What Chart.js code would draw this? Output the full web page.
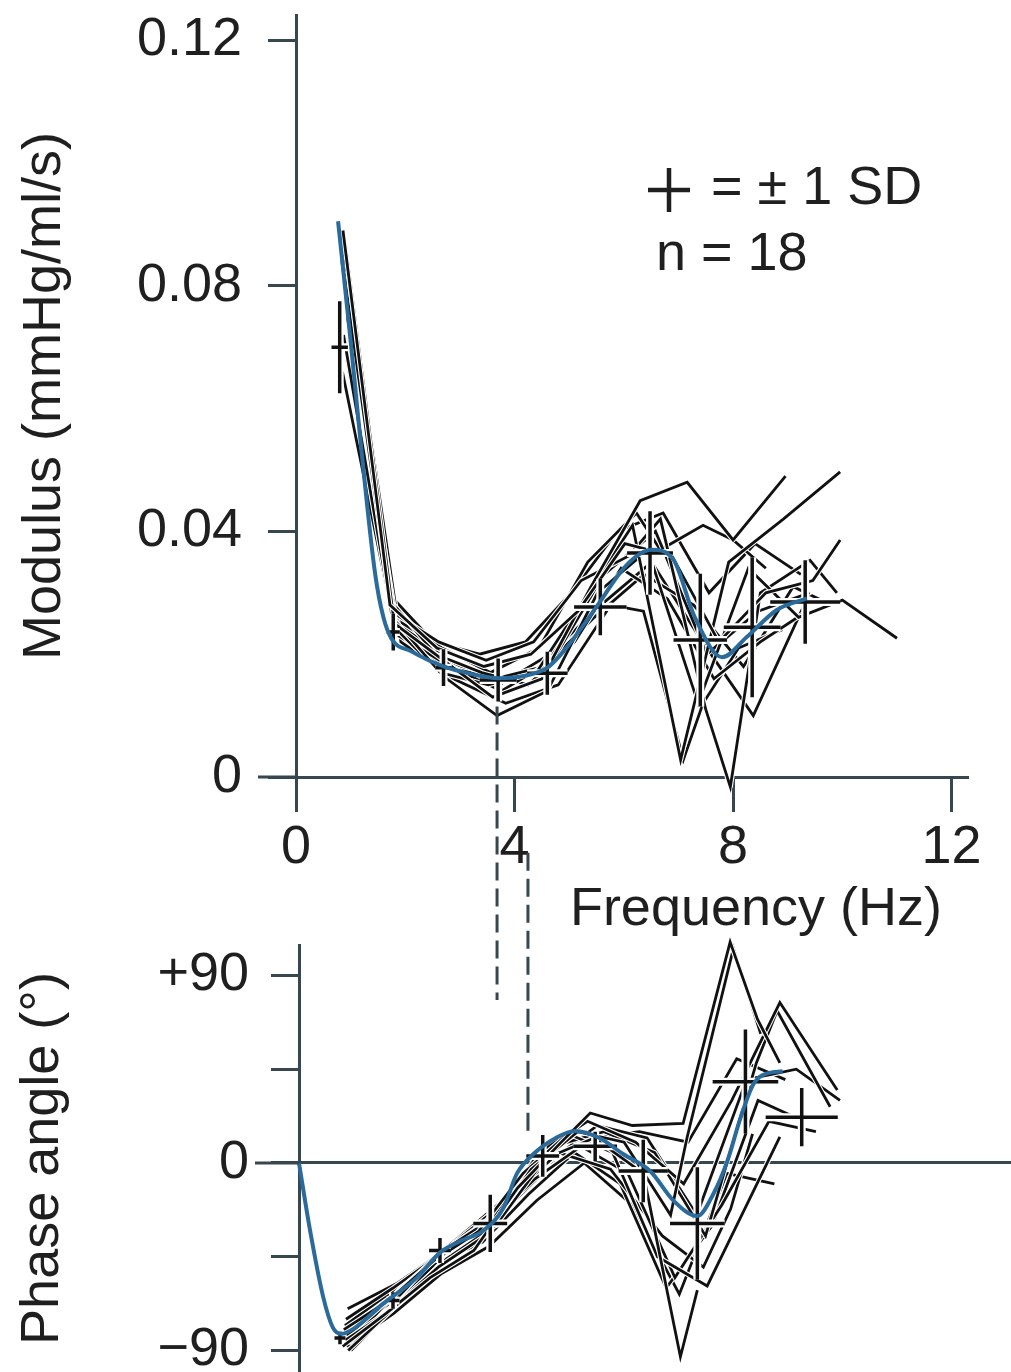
<!DOCTYPE html>
<html>
<head>
<meta charset="utf-8">
<title>Input impedance: modulus and phase</title>
<script src="https://cdn.jsdelivr.net/npm/chart.js@4.4.1/dist/chart.umd.min.js"></script>
<style>
  html, body { margin: 0; padding: 0; background: #fff; overflow: hidden; }
  #page { position: relative; width: 1011px; height: 1372px; }
  canvas { position: absolute; left: 0; }
  #modulusChart { top: 0; }
  #phaseChart { top: 830px; }
</style>
</head>
<body>
<div id="page">
  <canvas id="modulusChart" width="1011" height="1010"></canvas>
  <canvas id="phaseChart" width="1011" height="542"></canvas>
</div>
<script>
// ---------- axis ticks ----------
const tickFreq = [0, 4, 8, 12];
const tickModulus = [0, 0.04, 0.08, 0.12];
const tickPhase = [-90, -45, 0, 45, 90];
const phaseTickLabels = ['\u221290', '', '0', '', '+90'];

// ---------- mean curves ----------
const meanModFreq  = [0.77, 1.0, 1.2, 1.45, 1.6, 1.75, 2.1, 2.7, 3.2, 3.7, 4.2, 4.6, 4.9, 5.5, 6.05, 6.5, 6.9, 7.3, 7.8, 8.25, 8.8, 9.35];
const meanModValue = [0.0905, 0.071, 0.053, 0.033, 0.026, 0.0225, 0.0205, 0.018, 0.0168, 0.0161, 0.0165, 0.0178, 0.0205, 0.0277, 0.0345, 0.037, 0.0355, 0.026, 0.0195, 0.0228, 0.0272, 0.0291];

const meanPhaseFreq  = [0, 0.2, 0.44, 0.62, 0.78, 1.0, 1.54, 2.16, 2.58, 2.95, 3.37, 3.74, 3.99, 4.29, 4.7, 5.05, 5.5, 5.93, 6.43, 6.85, 7.29, 7.58, 7.84, 8.08, 8.32, 8.57, 8.85];
const meanPhaseValue = [0, -32, -64, -79, -82, -79.5, -67.5, -55, -43, -37.5, -32.5, -21.6, -5, 4.3, 12, 15.4, 12, 4.3, -4, -18, -25.5, -15, 1, 21.6, 38, 43, 44];

// ---------- individual subjects: modulus (mmHg/ml/s) ----------
const modulusS01 = [[0.86,0.089],[1.72,0.028],[2.58,0.021],[3.44,0.018],[4.30,0.020],[5.16,0.027],[6.02,0.038],[6.88,0.036],[7.74,0.022],[8.60,0.030],[9.46,0.032],[9.96,0.0386]];
const modulusS02 = [[0.90,0.087],[1.80,0.025],[2.70,0.019],[3.60,0.013],[4.50,0.016],[5.40,0.031],[6.30,0.045],[7.16,0.048],[8.00,0.0386],[8.96,0.049]];
const modulusS03 = [[0.88,0.082],[1.76,0.026],[2.64,0.017],[3.52,0.015],[4.40,0.017],[5.28,0.029],[6.16,0.041],[7.04,0.0028],[7.92,0.035],[8.92,0.042],[9.96,0.0497]];
const modulusS04 = [[0.92,0.078],[1.84,0.024],[2.76,0.016],[3.68,0.010],[4.60,0.014],[5.52,0.030],[6.44,0.037],[7.36,0.012],[8.28,0.034],[9.20,0.026],[10.0,0.0288],[11.0,0.0226]];
const modulusS05 = [[0.87,0.072],[1.74,0.027],[2.61,0.022],[3.48,0.019],[4.35,0.022],[5.22,0.032],[6.09,0.036],[6.67,0.042],[7.50,0.011],[7.95,-0.0016],[8.50,0.030],[9.41,0.0353],[9.90,0.030]];
const modulusS06 = [[0.94,0.075],[1.88,0.023],[2.82,0.018],[3.76,0.014],[4.70,0.019],[5.64,0.033],[6.58,0.040],[7.52,0.020],[8.46,0.027],[9.40,0.030]];
const modulusS07 = [[0.85,0.066],[1.70,0.029],[2.55,0.020],[3.40,0.017],[4.25,0.015],[5.10,0.022],[5.95,0.034],[6.80,0.029],[7.65,0.016],[8.50,0.022],[9.35,0.027]];
const modulusS08 = [[0.96,0.080],[1.92,0.022],[2.88,0.016],[3.84,0.012],[4.80,0.015],[5.76,0.028],[6.36,0.027],[7.09,0.0028],[7.45,0.012],[8.10,0.021],[8.90,0.024]];
const modulusS09 = [[0.89,0.085],[1.78,0.026],[2.67,0.021],[3.56,0.017],[4.45,0.021],[5.34,0.035],[6.23,0.043],[6.67,0.037],[7.45,0.041],[8.00,0.0386],[8.60,0.034]];
const modulusS10 = [[0.91,0.070],[1.82,0.024],[2.73,0.018],[3.64,0.016],[4.55,0.018],[5.46,0.026],[6.37,0.033],[7.28,0.028],[8.19,0.018],[9.10,0.031],[9.80,0.028]];
const modulusS11 = [[0.93,0.068],[1.86,0.025],[2.79,0.019],[3.72,0.015],[4.65,0.020],[5.58,0.028],[6.51,0.035],[7.44,0.022],[8.37,0.010],[9.30,0.028]];
const modulusS12 = [[0.84,0.084],[1.68,0.030],[2.52,0.022],[3.36,0.020],[4.20,0.022],[5.04,0.030],[5.88,0.040],[6.72,0.043],[7.56,0.030],[8.40,0.038],[9.24,0.033]];

// ---------- individual subjects: phase (degrees) ----------
const phaseS01 = [[0.80,-88],[1.60,-72],[2.40,-55],[3.20,-42],[4.00,-12],[4.80,10],[5.33,24],[6.10,18],[7.03,19],[7.89,106],[8.39,69],[8.80,48]];
const phaseS02 = [[0.85,-85],[1.70,-70],[2.55,-50],[3.40,-35],[4.25,-3],[5.10,15],[5.95,10],[6.80,-25],[7.10,12],[7.95,103],[8.45,62]];
const phaseS03 = [[0.90,-90],[1.80,-68],[2.70,-46],[3.60,-30],[4.50,2],[5.40,12],[6.30,-5],[6.98,-93],[7.29,-61]];
const phaseS04 = [[0.82,-80],[1.64,-66],[2.46,-47],[3.28,-33],[4.10,-5],[4.92,14],[5.74,5],[6.56,-45],[7.47,-59],[8.80,12.5]];
const phaseS05 = [[0.88,-83],[1.76,-63],[2.64,-42],[3.52,-27],[4.40,5],[5.28,20],[6.16,10],[7.04,-10],[7.92,30],[8.80,77],[9.85,35]];
const phaseS06 = [[0.93,-86],[1.86,-60],[2.79,-40],[3.72,-22],[4.65,8],[5.58,15],[6.51,5],[7.44,-35],[8.37,48],[8.75,73],[9.72,27]];
const phaseS07 = [[0.86,-75],[1.72,-60],[2.58,-44],[3.44,-30],[4.30,-8],[5.16,8],[6.02,-5],[6.88,-55],[7.74,-20],[8.60,20],[9.46,15]];
const phaseS08 = [[0.95,-90],[1.90,-65],[2.85,-38],[3.80,-18],[4.75,5],[5.70,-3],[6.65,-35],[7.40,-50],[7.90,-22],[8.30,14]];
const phaseS09 = [[0.84,-78],[1.68,-62],[2.52,-48],[3.36,-38],[4.20,-15],[5.04,5],[5.88,-10],[6.72,-60],[7.56,-30],[8.40,30],[9.24,20]];
const phaseS10 = [[0.91,-82],[1.82,-64],[2.73,-40],[3.64,-20],[4.55,0],[5.46,18],[6.37,12],[7.28,-25],[8.19,40],[9.10,45],[9.90,30]];
const phaseS11 = [[0.87,-88],[1.74,-72],[2.61,-53],[3.48,-40],[4.35,-18],[5.22,0],[6.09,-20],[6.96,-63],[7.83,-5],[8.70,-10]];
const phaseS12 = [[0.89,-70],[1.78,-58],[2.67,-42],[3.56,-28],[4.45,-5],[5.34,12],[6.23,15],[7.12,10],[8.01,50],[8.90,40]];

// ---------- ±1 SD crosses (frequency SD horizontally, value SD vertically) ----------
const sdModFreq     = [0.80, 1.78, 2.70, 3.70, 4.60, 5.57, 6.48, 7.40, 8.35, 9.32];
const sdModValue    = [0.070, 0.0236, 0.0178, 0.0158, 0.0169, 0.0277, 0.0365, 0.0223, 0.0244, 0.0285];
const sdModFreqSD   = [0.15, 0.12, 0.15, 0.34, 0.37, 0.48, 0.42, 0.49, 0.52, 0.64];
const sdModValueSD  = [0.0075, 0.003, 0.003, 0.0035, 0.0035, 0.0046, 0.0068, 0.0108, 0.0114, 0.0068];

const sdPhaseFreq    = [0.75, 1.72, 2.58, 3.50, 4.46, 5.42, 6.30, 7.29, 8.17, 9.20];
const sdPhaseValue   = [-84, -66, -42, -29, 3.4, 8, -3.8, -29, 39, 22];
const sdPhaseFreqSD  = [0.10, 0.12, 0.20, 0.31, 0.30, 0.40, 0.45, 0.50, 0.60, 0.66];
const sdPhaseValueSD = [3, 4, 6, 13.7, 10, 7, 15, 27, 25, 14];

// ---------- dashed guide lines between the panels ----------
const guideModFreq = 3.68, guideModFrom = 0.0115;
const guidePhaseFreq = 4.19, guidePhaseFrom = 15.5;

// ---------- styling ----------
const axisColor = '#37474f';
const inkColor = '#111111';
const textColor = '#1f1f1f';
const meanColor = '#2a6b9c';
const fontFamily = '"Liberation Sans", Arial, Helvetica, sans-serif';
const fontSize = 54;

const modulusSubjects = [modulusS01, modulusS02, modulusS03, modulusS04, modulusS05, modulusS06,
                         modulusS07, modulusS08, modulusS09, modulusS10, modulusS11, modulusS12];
const phaseSubjects = [phaseS01, phaseS02, phaseS03, phaseS04, phaseS05, phaseS06,
                       phaseS07, phaseS08, phaseS09, phaseS10, phaseS11, phaseS12];

const toXY = (xs, ys) => xs.map((x, i) => ({ x, y: ys[i] }));
const pairsToXY = pairs => pairs.map(([x, y]) => ({ x, y }));

function buildDatasets(meanXs, meanYs, subjects) {
  const sets = [{
    data: toXY(meanXs, meanYs),
    borderColor: meanColor, borderWidth: 4,
    cubicInterpolationMode: 'monotone', pointRadius: 0, clip: false, mean: true
  }];
  subjects.forEach(s => sets.push({
    data: pairsToXY(s),
    borderColor: inkColor, borderWidth: 2.8, tension: 0,
    pointRadius: 0, clip: false, halo: true
  }));
  return sets;
}

function drawCrosses(chart, c) {
  const { ctx, scales: { x, y } } = chart;
  ctx.save();
  ctx.lineCap = 'butt';
  [{ color: '#ffffff', w: 8 }, { color: inkColor, w: 3.5 }].forEach(pass => {
    ctx.strokeStyle = pass.color;
    ctx.lineWidth = pass.w;
    ctx.beginPath();
    c.freq.forEach((f, i) => {
      const cx = x.getPixelForValue(f);
      const cy = y.getPixelForValue(c.value[i]);
      ctx.moveTo(x.getPixelForValue(f - c.freqSD[i]), cy);
      ctx.lineTo(x.getPixelForValue(f + c.freqSD[i]), cy);
      ctx.moveTo(cx, y.getPixelForValue(c.value[i] - c.valueSD[i]));
      ctx.lineTo(cx, y.getPixelForValue(c.value[i] + c.valueSD[i]));
    });
    ctx.stroke();
  });
  ctx.restore();
}

// white outline under every subject trace, SD crosses just beneath the mean curve
function tracePlugin(crosses) {
  return {
    id: 'traceOutline',
    beforeDatasetDraw(chart, args) {
      const ds = chart.data.datasets[args.index];
      const ctx = chart.ctx;
      if (ds.halo) {
        const pts = args.meta.data;
        ctx.save();
        ctx.strokeStyle = '#ffffff';
        ctx.lineWidth = ds.borderWidth + 2.2;
        ctx.lineJoin = 'round';
        ctx.lineCap = 'round';
        ctx.beginPath();
        pts.forEach((p, i) => (i ? ctx.lineTo(p.x, p.y) : ctx.moveTo(p.x, p.y)));
        ctx.stroke();
        ctx.restore();
      }
      if (ds.mean) drawCrosses(chart, crosses);
    }
  };
}

const tickFont = { size: fontSize, family: fontFamily, lineHeight: 0.5 };
const titleFont = { size: fontSize, family: fontFamily, lineHeight: 1.2 };

// ---------- top panel: modulus ----------
const modulusDecor = {
  id: 'modulusDecor',
  afterDraw(chart) {
    const { ctx, chartArea, scales: { x, y } } = chart;
    ctx.save();
    // frequency axis runs a little past the modulus axis on the left
    ctx.strokeStyle = axisColor;
    ctx.lineWidth = 3;
    const y0 = y.getPixelForValue(0);
    ctx.beginPath();
    ctx.moveTo(chartArea.left - 38, y0);
    ctx.lineTo(chartArea.left, y0);
    ctx.stroke();

    // dashed guide dropping from the modulus minimum towards the phase panel
    ctx.setLineDash([18, 8]);
    const gx = x.getPixelForValue(guideModFreq);
    ctx.beginPath();
    ctx.moveTo(gx, y.getPixelForValue(guideModFrom));
    ctx.lineTo(gx, chart.height - 10);
    ctx.stroke();
    ctx.setLineDash([]);

    // frequency axis title
    ctx.fillStyle = textColor;
    ctx.font = `${fontSize}px ${fontFamily}`;
    ctx.textAlign = 'right';
    ctx.textBaseline = 'alphabetic';
    ctx.fillText('Frequency (Hz)', 942, 925);

    // key: cross = ±1 SD, n = 18
    ctx.strokeStyle = textColor;
    ctx.lineWidth = 4.5;
    ctx.beginPath();
    ctx.moveTo(648, 190); ctx.lineTo(690, 190);
    ctx.moveTo(669, 168); ctx.lineTo(669, 212);
    ctx.stroke();
    ctx.textAlign = 'left';
    ctx.fillText('= \u00b1 1 SD', 711, 204);
    ctx.fillText('n = 18', 656, 270);
    ctx.restore();
  }
};

new Chart(document.getElementById('modulusChart'), {
  type: 'line',
  data: { datasets: buildDatasets(meanModFreq, meanModValue, modulusSubjects) },
  options: {
    responsive: false,
    animation: false,
    events: [],
    layout: { padding: { left: 0, top: 15, right: 43, bottom: 0 } },
    plugins: { legend: { display: false }, tooltip: { enabled: false } },
    scales: {
      x: {
        type: 'linear', min: 0, max: 12.3, z: 1,
        afterBuildTicks: s => { s.ticks = tickFreq.map(v => ({ value: v })); },
        afterFit: s => { s.height = 233; s.paddingLeft = 0; s.paddingRight = 0; },
        border: { display: true, color: axisColor, width: 3 },
        grid: { display: true, drawOnChartArea: false, drawTicks: true, tickLength: 35, tickWidth: 3, tickColor: axisColor, color: axisColor },
        ticks: { padding: 4, color: textColor, font: { size: fontSize, family: fontFamily }, maxRotation: 0, autoSkip: false, callback: v => String(v) }
      },
      y: {
        type: 'linear', min: 0, max: 0.1241,
        afterBuildTicks: s => { s.ticks = tickModulus.map(v => ({ value: v })); },
        afterFit: s => { s.width = 296; s.paddingTop = 0; s.paddingBottom = 0; },
        border: { display: true, color: axisColor, width: 3 },
        grid: { display: true, drawOnChartArea: false, drawTicks: true, tickLength: 28, tickWidth: 3, tickColor: axisColor, color: axisColor },
        ticks: { padding: 26, color: textColor, font: tickFont, autoSkip: false, callback: v => (v === 0 ? '0' : v.toFixed(2)) },
        title: { display: true, text: 'Modulus (mmHg/ml/s)', color: textColor, font: titleFont, padding: { top: 13, bottom: 0 } }
      }
    }
  },
  plugins: [tracePlugin({ freq: sdModFreq, value: sdModValue, freqSD: sdModFreqSD, valueSD: sdModValueSD }), modulusDecor]
});

// ---------- bottom panel: phase angle ----------
const phaseDecor = {
  id: 'phaseDecor',
  afterDraw(chart) {
    const { ctx, chartArea, scales: { x, y } } = chart;
    ctx.save();
    ctx.strokeStyle = axisColor;
    ctx.lineWidth = 3;
    // zero line reaches a little further left than the other ticks
    const y0 = y.getPixelForValue(0);
    ctx.beginPath();
    ctx.moveTo(chartArea.left - 44, y0);
    ctx.lineTo(chartArea.left, y0);
    ctx.stroke();
    // dashed guide rising from the phase crossing towards the frequency axis
    ctx.setLineDash([18, 8]);
    const gx = x.getPixelForValue(guidePhaseFreq);
    ctx.beginPath();
    ctx.moveTo(gx, y.getPixelForValue(guidePhaseFrom));
    ctx.lineTo(gx, 20);
    ctx.stroke();
    ctx.restore();
  }
};

new Chart(document.getElementById('phaseChart'), {
  type: 'line',
  data: { datasets: buildDatasets(meanPhaseFreq, meanPhaseValue, phaseSubjects) },
  options: {
    responsive: false,
    animation: false,
    events: [],
    layout: { padding: { left: 0, top: 115, right: 0, bottom: 0 } },
    plugins: { legend: { display: false }, tooltip: { enabled: false } },
    scales: {
      x: {
        type: 'linear', min: 0, max: 13.03, display: false,
        afterFit: s => { s.paddingLeft = 0; s.paddingRight = 0; }
      },
      y: {
        type: 'linear', min: -100.3, max: 104.6, z: 1,
        afterBuildTicks: s => { s.ticks = tickPhase.map(v => ({ value: v })); },
        afterFit: s => { s.width = 299; s.paddingTop = 0; s.paddingBottom = 0; },
        border: { display: true, color: axisColor, width: 3 },
        grid: {
          display: true, drawOnChartArea: true, drawTicks: true, tickLength: 28, tickWidth: 3,
          tickColor: axisColor, lineWidth: 3,
          color: c => (c.tick && c.tick.value === 0 ? axisColor : 'rgba(0,0,0,0)')
        },
        ticks: { padding: 22, color: textColor, font: tickFont, autoSkip: false, callback: (v, i) => phaseTickLabels[i] },
        title: { display: true, text: 'Phase angle (\u00b0)', color: textColor, font: titleFont, padding: { top: 11, bottom: 0 } }
      }
    }
  },
  plugins: [tracePlugin({ freq: sdPhaseFreq, value: sdPhaseValue, freqSD: sdPhaseFreqSD, valueSD: sdPhaseValueSD }), phaseDecor]
});
</script>
</body>
</html>
